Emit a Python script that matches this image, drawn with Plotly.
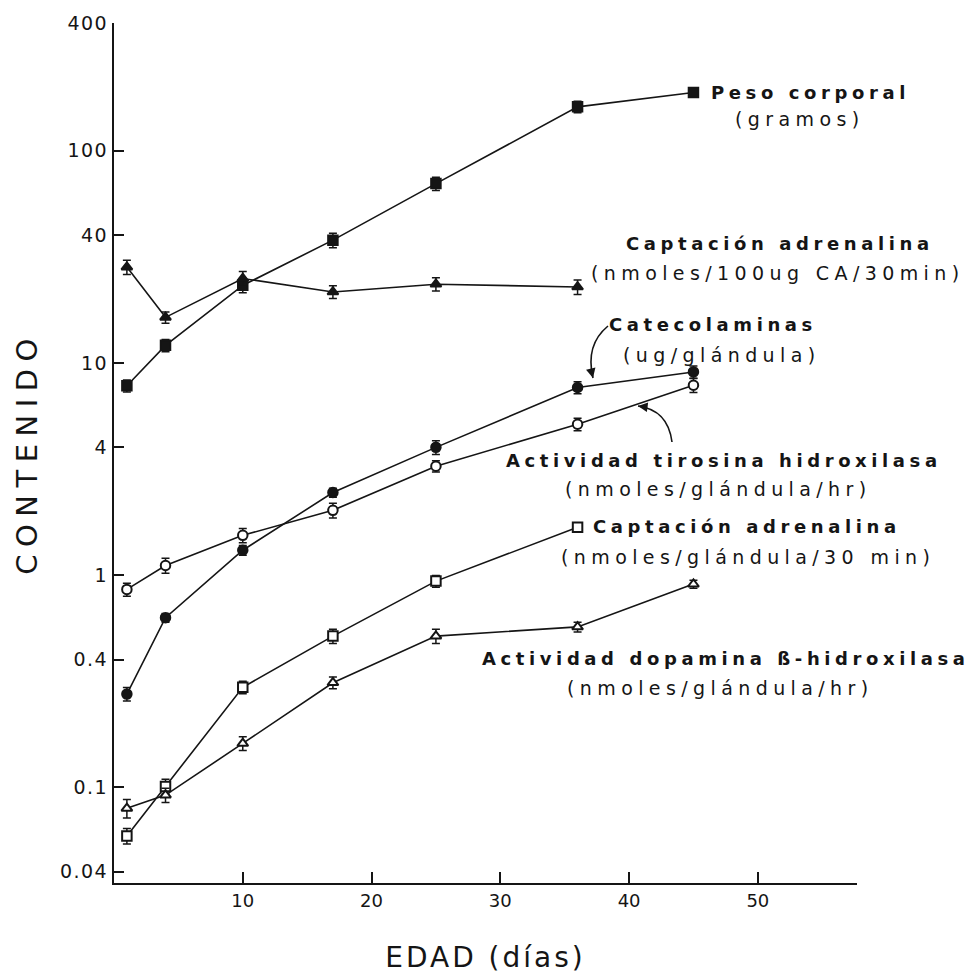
import plotly.graph_objects as go

# ---------------- data ----------------
days = [1, 4, 10, 17, 25, 36, 45]
days_short = [1, 4, 10, 17, 25, 36]

peso = [7.8, 12.1, 23.2, 37.9, 70, 161, 188]
peso_err = [0.5, 0.8, 1.8, 3.0, 5.0, 10, 9]

capt_ca = [28.3, 16.4, 25.0, 21.6, 23.5, 22.8]
capt_ca_err = [2.2, 1.0, 2.0, 1.5, 1.7, 1.8]

catecol = [0.275, 0.63, 1.31, 2.45, 4.0, 7.66, 9.07]
catecol_err = [0.02, 0.03, 0.07, 0.12, 0.3, 0.5, 0.6]

tirosina = [0.856, 1.11, 1.54, 2.02, 3.26, 5.14, 7.85]
tirosina_err = [0.06, 0.09, 0.12, 0.16, 0.2, 0.35, 0.6]

capt_gl = [0.059, 0.101, 0.296, 0.516, 0.937, 1.68]
capt_gl_err = [0.005, 0.008, 0.02, 0.04, 0.06, 0.08]

dbh = [0.0796, 0.0919, 0.161, 0.311, 0.516, 0.570, 0.907]
dbh_err = [0.008, 0.007, 0.012, 0.02, 0.04, 0.03, 0.04]

y_tickvals = [0.04, 0.1, 0.4, 1, 4, 10, 40, 100, 400]
y_ticktext = ["0.04", "0.1", "0.4", "1", "4", "10", "40", "100", "400"]
x_tickvals = [10, 20, 30, 40, 50]

INK = "#151515"
FONT = "DejaVu Sans"

fig = go.Figure()

def add_series(x, y, err, symbol, filled, name):
    fig.add_trace(go.Scatter(
        x=x, y=y, mode="lines+markers", name=name,
        line=dict(color=INK, width=1.6),
        marker=dict(symbol=symbol, size=9.5, color=INK if filled else "white",
                    line=dict(color=INK, width=2)),
        error_y=dict(type="data", array=err, visible=True, color=INK,
                     thickness=1.5, width=4),
        showlegend=False,
    ))

add_series(days, peso, peso_err, "square", True, "Peso corporal")
add_series(days_short, capt_ca, capt_ca_err, "triangle-up", True, "Captación adrenalina (CA)")
add_series(days, catecol, catecol_err, "circle", True, "Catecolaminas")
add_series(days, tirosina, tirosina_err, "circle", False, "Actividad tirosina hidroxilasa")
add_series(days_short, capt_gl, capt_gl_err, "square", False, "Captación adrenalina (glándula)")
add_series(days, dbh, dbh_err, "triangle-up", False, "Actividad dopamina ß-hidroxilasa")

# target plot area in picture pixels: x 114..857, y 23..883
# (the page body adds an 8px offset to the figure)
OFF = 8
L, R, T, B = 114, 857, 23, 883
W, H = R - L, B - T

def px(x):
    return (x - L) / W

def py(y):
    return (B - y) / H

def sp(text, s):
    return f'<span style="letter-spacing:{s}px">{text}</span>'

BOLD_SP = 4.6
REG_SP = 5.4
labels = [
    ("<b>" + sp("Peso corporal", BOLD_SP) + "</b>", 810, 92, 18),
    (sp("(gramos)", REG_SP), 800, 119, 19),
    ("<b>" + sp("Captación adrenalina", BOLD_SP) + "</b>", 780, 243, 18),
    (sp("(nmoles/100ug CA/30min)", REG_SP), 778, 273, 19),
    ("<b>" + sp("Catecolaminas", BOLD_SP) + "</b>", 713, 324, 18),
    (sp("(ug/glándula)", REG_SP), 722, 355, 19),
    ("<b>" + sp("Actividad tirosina hidroxilasa", BOLD_SP) + "</b>", 724, 460, 18),
    (sp("(nmoles/glándula/hr)", REG_SP), 718, 489, 19),
    ("<b>" + sp("Captación adrenalina", BOLD_SP) + "</b>", 747, 526, 18),
    (sp("(nmoles/glándula/30 min)", REG_SP), 748, 557, 19),
    ("<b>" + sp("Actividad dopamina ß-hidroxilasa", BOLD_SP) + "</b>", 726, 658, 18),
    (sp("(nmoles/glándula/hr)", REG_SP), 720, 688, 19),
]
for text, x, y, size in labels:
    fig.add_annotation(text=text, x=px(x), y=py(y), xref="paper", yref="paper",
                       showarrow=False, xanchor="center", yanchor="middle",
                       font=dict(family=FONT, size=size, color=INK))

# curved pointer arrows
arrows = [
    ((608, 326), (585, 345), (593, 378)),
    ((672, 442), (668, 410), (638, 406)),
]
for (x0, y0), (cx, cy), (x1, y1) in arrows:
    fig.add_shape(type="path", xref="paper", yref="paper",
                  path=f"M {px(x0)},{py(y0)} Q {px(cx)},{py(cy)} {px(x1)},{py(y1)}",
                  line=dict(color=INK, width=1.6))
    dx, dy = cx - x1, cy - y1
    n = (dx * dx + dy * dy) ** 0.5
    fig.add_annotation(x=px(x1), y=py(y1), xref="paper", yref="paper", text="",
                       showarrow=True, arrowhead=2, arrowsize=1.2, arrowwidth=1.6,
                       arrowcolor=INK, ax=dx / n * 10, ay=dy / n * 10)

fig.update_layout(
    width=974, height=974,
    margin=dict(l=L - OFF, r=974 - (R - OFF), t=T - OFF, b=974 - (B - OFF)),
    paper_bgcolor="white", plot_bgcolor="white",
    font=dict(family=FONT, color=INK),
    xaxis=dict(
        range=[0, 57.7], tickvals=x_tickvals, ticks="inside", ticklen=11, tickwidth=1.5,
        tickcolor=INK, showline=True, linecolor=INK, linewidth=2, showgrid=False,
        zeroline=False, automargin=False,
        tickfont=dict(family=FONT, size=18, color=INK),
        title=dict(text=sp("EDAD (días)", 3), font=dict(family=FONT, size=28, color=INK),
                   standoff=38),
    ),
    yaxis=dict(
        type="log", range=[-1.451, 2.602], tickvals=y_tickvals,
        ticktext=[sp(t, 1.5) for t in y_ticktext],
        ticks="inside", ticklen=10, tickwidth=1.5, tickcolor=INK, showline=True,
        linecolor=INK, linewidth=2, showgrid=False, zeroline=False, automargin=False,
        tickfont=dict(family=FONT, size=19, color=INK),
        title=dict(text=sp("CONTENIDO", 7.5), font=dict(family=FONT, size=29, color=INK),
                   standoff=14),
    ),
)

fig.write_html("out.html")
